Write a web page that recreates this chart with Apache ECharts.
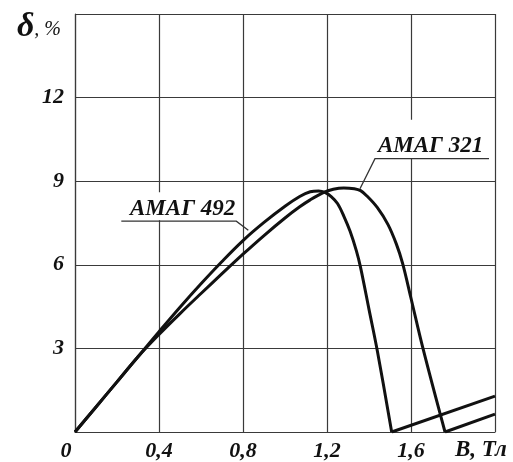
<!DOCTYPE html>
<html>
<head>
<meta charset="utf-8">
<script src="https://cdn.jsdelivr.net/npm/echarts@6/dist/echarts.min.js"></script>
<style>
  html, body { margin: 0; padding: 0; background: #fff; }
  #chart { width: 513px; height: 462px; }
</style>
</head>
<body>
<div id="chart"></div>
<script>
// B, Тл -> δ, %
const ticksB = [0, 0.4, 0.8, 1.2, 1.6, 2.0]
const tickLabelsB = ['0', '0,4', '0,8', '1,2', '1,6', '']
const tickLabelsD = ['', '3', '6', '9', '12', '']

const amag492 = [
  [0, 0], [0.1, 0.9], [0.2, 1.8], [0.3, 2.7], [0.4, 3.6], [0.5, 4.48],
  [0.6, 5.32], [0.7, 6.12], [0.8, 6.87], [0.9, 7.52], [1.0, 8.1],
  [1.07, 8.45], [1.12, 8.62], [1.16, 8.65], [1.19, 8.6], [1.22, 8.45],
  [1.25, 8.2], [1.28, 7.75], [1.31, 7.2], [1.34, 6.5], [1.36, 5.9],
  [1.4, 4.4], [1.44, 2.9], [1.508, 0]
]
const amag492Tail = [[1.508, 0], [2.0, 1.29]]

const amag321 = [
  [0, 0], [0.1, 0.9], [0.2, 1.8], [0.3, 2.7], [0.4, 3.5], [0.5, 4.25],
  [0.6, 4.97], [0.7, 5.68], [0.8, 6.38], [0.9, 7.05], [1.0, 7.68],
  [1.07, 8.08], [1.12, 8.33], [1.18, 8.58], [1.23, 8.71], [1.28, 8.76],
  [1.33, 8.73], [1.36, 8.66], [1.39, 8.47], [1.44, 8.05], [1.49, 7.45],
  [1.53, 6.75], [1.56, 6.05], [1.6, 4.8], [1.657, 3.0], [1.762, 0]
]
const amag321Tail = [[1.762, 0], [2.0, 0.64]]

// where the leader lines touch the curves
const anchor492 = [0.83, 7.1]
const anchor321 = [1.357, 8.66]

const font = 'Liberation Serif'
const ink = '#111'
const gridInk = '#3a3a3a'

const chart = echarts.init(document.getElementById('chart'))

function curve(data, smooth) {
  return {
    type: 'line',
    data: data,
    smooth: smooth ? 0.35 : false,
    showSymbol: false,
    symbol: 'none',
    silent: true,
    lineStyle: { color: ink, width: 3 },
    z: 3
  }
}

chart.setOption({
  animation: false,
  grid: { left: 75, right: 18, top: 14, bottom: 29 },
  xAxis: {
    type: 'value',
    min: 0,
    max: 2,
    interval: 0.4,
    name: 'B, Тл',
    nameLocation: 'end',
    nameGap: -40,
    nameTextStyle: {
      fontFamily: font, fontSize: 23, fontWeight: 'bold', fontStyle: 'italic',
      color: ink, align: 'left', verticalAlign: 'top', padding: [7, 0, 0, 0]
    },
    axisLine: { show: true, lineStyle: { color: gridInk, width: 1.2 } },
    axisTick: { show: false },
    axisLabel: {
      margin: 8,
      fontFamily: font, fontSize: 22, fontWeight: 'bold', fontStyle: 'italic', color: ink,
      formatter: v => {
        const i = Math.round(v / 0.4)
        return i === 0 ? '{z|0}' : tickLabelsB[i]
      },
      rich: { z: { padding: [0, 18, 0, 0] } }
    },
    splitLine: { show: true, lineStyle: { color: gridInk, width: 1.2 } }
  },
  yAxis: {
    type: 'value',
    min: 0,
    max: 15,
    interval: 3,
    name: '{d|δ}{p|, %}',
    nameLocation: 'end',
    nameGap: -13,
    nameTextStyle: {
      align: 'right', verticalAlign: 'middle', padding: [0, 14, 0, 0],
      rich: {
        d: { fontFamily: font, fontSize: 34, fontWeight: 'bold', fontStyle: 'italic', color: ink },
        p: { fontFamily: font, fontSize: 20, fontStyle: 'italic', color: ink, padding: [6, 0, 0, 0] }
      }
    },
    axisLine: { show: true, lineStyle: { color: gridInk, width: 1.2 } },
    axisTick: { show: false },
    axisLabel: {
      margin: 11,
      fontFamily: font, fontSize: 22, fontWeight: 'bold', fontStyle: 'italic', color: ink,
      formatter: v => tickLabelsD[Math.round(v / 3)]
    },
    splitLine: { show: true, lineStyle: { color: gridInk, width: 1.2 } }
  },
  series: [
    curve(amag492, true),
    curve(amag492Tail, false),
    curve(amag321, true),
    curve(amag321Tail, false)
  ]
})

// labels with underline + leader line, placed from the curve anchor points
const p492 = chart.convertToPixel({ gridIndex: 0 }, anchor492)
const p321 = chart.convertToPixel({ gridIndex: 0 }, anchor321)
const labelStyle = {
  fontFamily: font, fontSize: 23, fontWeight: 'bold', fontStyle: 'italic', fill: ink
}

chart.setOption({
  graphic: [
    {
      type: 'rect', z: 10,
      shape: { x: p492[0] - 130, y: p492[1] - 42, width: 117, height: 28 },
      style: { fill: '#fff' }
    },
    {
      type: 'text', z: 11,
      x: p492[0] - 14, y: p492[1] - 14,
      style: Object.assign({ text: 'АМАГ 492', align: 'right', verticalAlign: 'bottom' }, labelStyle)
    },
    {
      type: 'polyline', z: 11,
      shape: { points: [[p492[0] - 128, p492[1] - 13], [p492[0] - 13, p492[1] - 13], [p492[0] - 1, p492[1] - 4]] },
      style: { stroke: '#333', lineWidth: 1.3, fill: null }
    },
    {
      type: 'rect', z: 10,
      shape: { x: p321[0] + 14, y: p321[1] - 71, width: 120, height: 39 },
      style: { fill: '#fff' }
    },
    {
      type: 'text', z: 11,
      x: p321[0] + 18, y: p321[1] - 33,
      style: Object.assign({ text: 'АМАГ 321', align: 'left', verticalAlign: 'bottom' }, labelStyle)
    },
    {
      type: 'polyline', z: 11,
      shape: { points: [[p321[0], p321[1] - 2], [p321[0] + 15, p321[1] - 32], [p321[0] + 129, p321[1] - 32]] },
      style: { stroke: '#333', lineWidth: 1.3, fill: null }
    }
  ]
})
</script>
</body>
</html>
